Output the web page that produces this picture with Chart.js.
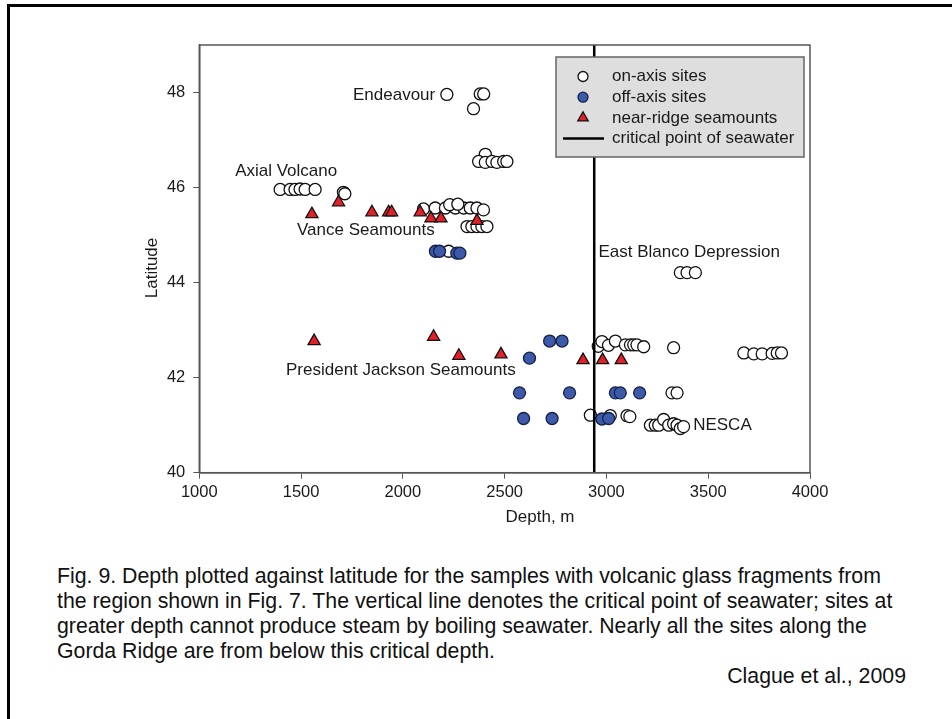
<!DOCTYPE html>
<html>
<head>
<meta charset="utf-8">
<script src="https://cdn.jsdelivr.net/npm/chart.js@4/dist/chart.umd.min.js"></script>
<style>
    body { margin: 0; background: #fff; font-family: "Liberation Sans", Arial, sans-serif; }
    .frame { position: absolute; left: 7px; top: 4px; width: 945px; height: 720px; border-left: 3px solid #000; border-top: 3px solid #000; }
    #chart { position: absolute; left: 0; top: 0; }
    .caption { position: absolute; left: 57px; top: 564px; width: 880px; font-size: 21.3px; line-height: 25px; color: #111; white-space: nowrap; }
    .source { position: absolute; right: 46px; top: 664px; font-size: 21.3px; line-height: 25px; color: #111; }
</style>
</head>
<body>
<div class="frame"></div>
<canvas id="chart" width="952" height="560"></canvas>
<div class="caption">Fig. 9. Depth plotted against latitude for the samples with volcanic glass fragments from<br>the region shown in Fig. 7. The vertical line denotes the critical point of seawater; sites at<br>greater depth cannot produce steam by boiling seawater. Nearly all the sites along the<br>Gorda Ridge are from below this critical depth.</div>
<div class="source">Clague et al., 2009</div>
<script>
// depth (m) / latitude
const onAxisDepth = [2216, 2380, 2397, 2347,
    2405, 2372, 2405, 2438, 2462, 2495, 2511,
    1397, 1446, 1470, 1495, 1520, 1569, 1708, 1715,
    2101, 2159, 2209, 2258, 2299, 2331, 2364, 2396, 2230, 2270,
    2315, 2339, 2364, 2388, 2413,
    2225,
    3363, 3396, 3437,
    2960, 2978, 3010, 3044, 3093, 3118, 3134, 3150, 3183, 3330,
    3675, 3724, 3765, 3814, 3839, 3860,
    3322, 3347,
    2921, 3019, 3101, 3115,
    3216, 3240, 3257, 3281, 3306, 3330, 3347, 3363, 3379];
const onAxisLat = [47.96, 47.97, 47.97, 47.66,
    46.70, 46.55, 46.53, 46.55, 46.53, 46.55, 46.55,
    45.96, 45.96, 45.96, 45.97, 45.96, 45.96, 45.90, 45.87,
    45.55, 45.57, 45.57, 45.57, 45.57, 45.57, 45.57, 45.53, 45.64, 45.65,
    45.18, 45.18, 45.18, 45.18, 45.18,
    44.66,
    44.21, 44.21, 44.21,
    42.66, 42.76, 42.68, 42.77, 42.69, 42.69, 42.69, 42.69, 42.65, 42.63,
    42.52, 42.50, 42.50, 42.51, 42.52, 42.52,
    41.68, 41.68,
    41.21, 41.20, 41.20, 41.18,
    41.00, 41.00, 41.00, 41.12, 41.00, 41.03, 41.00, 40.93, 40.97];

const offAxisDepth = [2160, 2180, 2265, 2280, 2622, 2721, 2782, 2573, 2819, 3044, 3068, 3163, 2593, 2733, 2978, 3011];
const offAxisLat = [44.66, 44.66, 44.62, 44.62, 42.41, 42.77, 42.77, 41.68, 41.68, 41.68, 41.68, 41.68, 41.14, 41.14, 41.13, 41.14];

const seamountDepth = [1553, 1684, 1848, 1930, 1945, 2085, 2138, 2187, 2364, 1564, 2151, 2275, 2482, 2885, 2981, 3073];
const seamountLat = [45.44, 45.69, 45.48, 45.48, 45.48, 45.48, 45.35, 45.35, 45.30, 42.77, 42.86, 42.46, 42.49, 42.37, 42.37, 42.37];

const criticalDepth = 2940;

const xTicks = [1000, 1500, 2000, 2500, 3000, 3500, 4000];
const yTicks = [40, 42, 44, 46, 48];

const siteLabels = [
    { text: 'Endeavour', x: 2159, y: 47.95, align: 'right' },
    { text: 'Axial Volcano', x: 1176, y: 46.35, align: 'left' },
    { text: 'Vance Seamounts', x: 1480, y: 45.09, align: 'left' },
    { text: 'President Jackson Seamounts', x: 1426, y: 42.16, align: 'left' },
    { text: 'East Blanco Depression', x: 2961, y: 44.63, align: 'left' },
    { text: 'NESCA', x: 3426, y: 41.0, align: 'left' }
];

const legendItems = ['on-axis sites', 'off-axis sites', 'near-ridge seamounts', 'critical point of seawater'];

const FONT = '"Liberation Sans", Arial, sans-serif';

function toPoints(xs, ys) {
    return xs.map((x, i) => ({ x: x, y: ys[i] }));
}

const decorations = {
    id: 'decorations',
    afterDraw(chart) {
        const ctx = chart.ctx;
        const area = chart.chartArea;
        const xs = chart.scales.x;
        const ys = chart.scales.y;

        // frame
        ctx.save();
        ctx.strokeStyle = '#555';
        ctx.lineWidth = 1.5;
        ctx.strokeRect(area.left, area.top, area.right - area.left, area.bottom - area.top);

        // site labels
        ctx.fillStyle = '#1a1a1a';
        ctx.font = '17px ' + FONT;
        ctx.textBaseline = 'middle';
        siteLabels.forEach(l => {
            ctx.textAlign = l.align;
            ctx.fillText(l.text, xs.getPixelForValue(l.x), ys.getPixelForValue(l.y));
        });

        // axis titles
        ctx.font = '17px ' + FONT;
        ctx.textAlign = 'center';
        ctx.fillText('Depth, m', 540, 517);
        ctx.save();
        ctx.translate(152, 268);
        ctx.rotate(-Math.PI / 2);
        ctx.fillText('Latitude', 0, 0);
        ctx.restore();

        // legend
        const bx = area.right - 254, by = area.top + 12, bw = 248, bh = 100;
        ctx.fillStyle = '#dedede';
        ctx.fillRect(bx, by, bw, bh);
        ctx.strokeStyle = '#666';
        ctx.lineWidth = 1.5;
        ctx.strokeRect(bx, by, bw, bh);

        const styles = chart.data.datasets;
        const order = [3, 2, 1];
        ctx.font = '17px ' + FONT;
        ctx.textAlign = 'left';
        legendItems.forEach((t, i) => {
            const ry = by + 19.5 + i * 20.7;
            if (i < 3) {
                const ds = styles[order[i]];
                ctx.fillStyle = ds.backgroundColor;
                ctx.strokeStyle = ds.borderColor;
                ctx.lineWidth = 1.3;
                Chart.helpers.drawPoint(ctx, {
                    pointStyle: ds.pointStyle,
                    radius: i === 2 ? 6 : 5,
                    borderWidth: 1.3,
                    rotation: 0
                }, bx + 27, ry);
            } else {
                ctx.strokeStyle = '#000';
                ctx.lineWidth = 2.5;
                ctx.beginPath();
                ctx.moveTo(bx + 7, ry);
                ctx.lineTo(bx + 48, ry);
                ctx.stroke();
            }
            ctx.fillStyle = '#1a1a1a';
            ctx.fillText(t, bx + 56, ry);
        });
        ctx.restore();
    }
};

const axisStyle = {
    display: true,
    drawOnChartArea: false,
    drawTicks: true,
    tickLength: 6,
    color: '#555'
};

new Chart(document.getElementById('chart').getContext('2d'), {
    type: 'scatter',
    data: {
        datasets: [
            {
                type: 'line',
                label: 'critical point of seawater',
                data: [{ x: criticalDepth, y: 40 }, { x: criticalDepth, y: 49 }],
                borderColor: '#000',
                backgroundColor: '#000',
                borderWidth: 2.5,
                pointRadius: 0
            },
            {
                label: 'near-ridge seamounts',
                data: toPoints(seamountDepth, seamountLat),
                pointStyle: 'triangle',
                pointRadius: 7,
                backgroundColor: '#e41f28',
                borderColor: '#111',
                borderWidth: 1.3
            },
            {
                label: 'off-axis sites',
                data: toPoints(offAxisDepth, offAxisLat),
                pointStyle: 'circle',
                pointRadius: 6,
                backgroundColor: '#3d5aa9',
                borderColor: '#14204a',
                borderWidth: 1.3
            },
            {
                label: 'on-axis sites',
                data: toPoints(onAxisDepth, onAxisLat),
                pointStyle: 'circle',
                pointRadius: 6,
                backgroundColor: '#fff',
                borderColor: '#111',
                borderWidth: 1.3
            }
        ]
    },
    options: {
        responsive: false,
        animation: false,
        layout: { padding: { top: 45, right: 142, left: 0, bottom: 0 } },
        plugins: {
            legend: { display: false },
            tooltip: { enabled: false }
        },
        scales: {
            x: {
                type: 'linear',
                min: 1000,
                max: 4000,
                afterBuildTicks: scale => { scale.ticks = xTicks.map(v => ({ value: v })); },
                afterFit: scale => { scale.height = 560 - 472.7; },
                grid: axisStyle,
                border: { display: true, color: '#555', width: 1.5 },
                ticks: { color: '#1a1a1a', padding: 4, font: { size: 16.5, family: FONT }, maxRotation: 0, callback: v => String(v) }
            },
            y: {
                type: 'linear',
                min: 40,
                max: 49,
                afterBuildTicks: scale => { scale.ticks = yTicks.map(v => ({ value: v })); },
                afterFit: scale => { scale.width = 199.3; },
                grid: axisStyle,
                border: { display: true, color: '#555', width: 1.5 },
                ticks: { color: '#1a1a1a', padding: 8, font: { size: 16.5, family: FONT }, callback: v => String(v) }
            }
        }
    },
    plugins: [decorations]
});
</script>
</body>
</html>
